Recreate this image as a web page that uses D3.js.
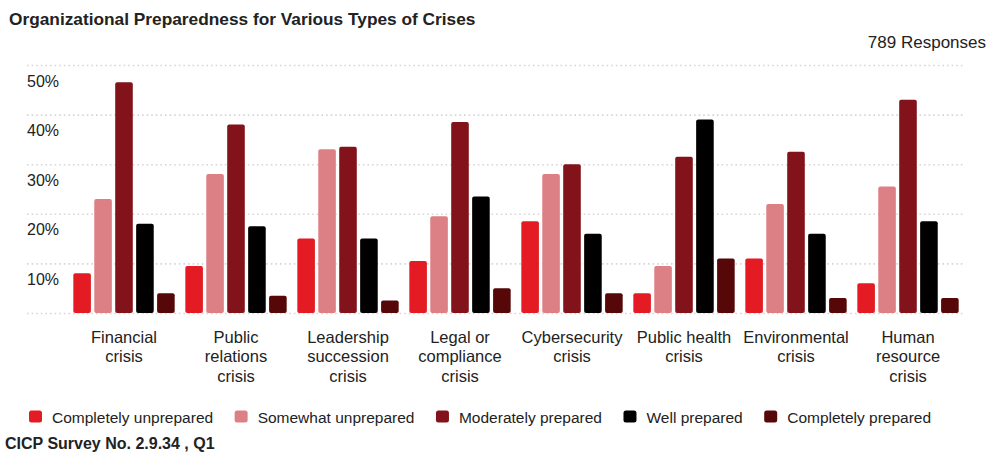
<!DOCTYPE html>
<html>
<head>
<meta charset="utf-8">
<script src="https://cdn.jsdelivr.net/npm/d3@7"></script>
<style>
  body { margin: 0; background: #fff; }
  text { font-family: "Liberation Sans", Arial, Helvetica, sans-serif; fill: #222; }
</style>
</head>
<body>
<script>
// Data
var categories = ["Financial crisis", "Public relations crisis", "Leadership succession crisis",
  "Legal or compliance crisis", "Cybersecurity crisis", "Public health crisis",
  "Environmental crisis", "Human resource crisis"];

// how each category label wraps under the axis
var categoryLines = [
  ["Financial", "crisis"],
  ["Public", "relations", "crisis"],
  ["Leadership", "succession", "crisis"],
  ["Legal or", "compliance", "crisis"],
  ["Cybersecurity", "crisis"],
  ["Public health", "crisis"],
  ["Environmental", "crisis"],
  ["Human", "resource", "crisis"]
];

var seriesNames = ["Completely unprepared", "Somewhat unprepared", "Moderately prepared",
  "Well prepared", "Completely prepared"];
var seriesColors = ["#e41b23", "#dd8085", "#82131a", "#000000", "#560708"];

var completelyUnprepared = [8, 9.5, 15, 10.5, 18.5, 4, 11, 6];
var somewhatUnprepared = [23, 28, 33, 19.5, 28, 9.5, 22, 25.5];
var moderatelyPrepared = [46.5, 38, 33.5, 38.5, 30, 31.5, 32.5, 43];
var wellPrepared = [18, 17.5, 15, 23.5, 16, 39, 16, 18.5];
var completelyPrepared = [4, 3.5, 2.5, 5, 4, 11, 3, 3];

var yTicks = [0, 10, 20, 30, 40, 50];

var series = [completelyUnprepared, somewhatUnprepared, moderatelyPrepared, wellPrepared, completelyPrepared];

// Chart setup
var svgWidth = 989;
var svgHeight = 455;

var svg = d3.select("body")
  .append("svg")
  .attr("width", svgWidth)
  .attr("height", svgHeight);

// Title and response count
svg.append("text")
  .attr("x", 9)
  .attr("y", 25)
  .attr("font-size", "17.3px")
  .attr("font-weight", "bold")
  .text("Organizational Preparedness for Various Types of Crises");

svg.append("text")
  .attr("x", 986)
  .attr("y", 48)
  .attr("text-anchor", "end")
  .attr("font-size", "17px")
  .text("789 Responses");

// Scales
var x0 = d3.scaleBand()
  .domain(categories)
  .range([68, 964])
  .paddingInner(0.095)
  .paddingOuter(0.0475);

var x1 = d3.scaleBand()
  .domain(seriesNames)
  .range([0, x0.bandwidth()])
  .paddingInner(0.16);

var y = d3.scaleLinear()
  .domain([0, 50])
  .range([313, 65]);

// Gridlines + y labels
var yAxis = svg.append("g")
  .attr("transform", "translate(27,0)")
  .call(d3.axisRight(y).tickValues(yTicks).tickSize(936).tickFormat(d => d === 0 ? "" : d + "%"));

yAxis.select(".domain").remove();
yAxis.selectAll(".tick line")
  .attr("stroke", "#d6d6d6")
  .attr("stroke-width", 1.6)
  .attr("stroke-dasharray", "1.6,3");
yAxis.selectAll(".tick text")
  .attr("x", 0)
  .attr("dy", 21)
  .attr("font-size", "16px")
  .attr("fill", "#222")
  .attr("font-family", "Liberation Sans, Arial, sans-serif");

// Bars
var groups = svg.append("g")
  .selectAll("g")
  .data(categories)
  .enter()
  .append("g")
  .attr("transform", d => `translate(${x0(d)},0)`);

groups.selectAll("rect")
  .data((d, i) => seriesNames.map((s, j) => ({ key: s, value: series[j][i], color: seriesColors[j] })))
  .enter()
  .append("rect")
  .attr("x", d => x1(d.key))
  .attr("y", d => y(d.value))
  .attr("width", x1.bandwidth())
  .attr("height", d => y(0) - y(d.value))
  .attr("rx", 2)
  .attr("fill", d => d.color);

// Category axis
var xAxis = svg.append("g")
  .attr("transform", "translate(0,323)")
  .call(d3.axisBottom(x0).tickSize(0).tickFormat(""));

xAxis.select(".domain").remove();
xAxis.selectAll(".tick text").remove();
xAxis.selectAll(".tick")
  .append("text")
  .attr("text-anchor", "middle")
  .attr("font-size", "16.5px")
  .attr("fill", "#222")
  .attr("font-family", "Liberation Sans, Arial, sans-serif")
  .selectAll("tspan")
  .data((d, i) => categoryLines[i])
  .enter()
  .append("tspan")
  .attr("x", 0)
  .attr("y", (d, i) => 19.5 + i * 19.5)
  .text(d => d);

// Legend
var legend = svg.append("g");
var lx = 29;
seriesNames.forEach(function(name, i) {
  var item = legend.append("g").attr("transform", `translate(${lx},0)`);
  item.append("rect")
    .attr("x", 0)
    .attr("y", 410.5)
    .attr("width", 13)
    .attr("height", 12)
    .attr("rx", 2.5)
    .attr("fill", seriesColors[i]);
  var t = item.append("text")
    .attr("x", 23)
    .attr("y", 423)
    .attr("font-size", "15.5px")
    .text(name);
  lx += 23 + t.node().getComputedTextLength() + 21.5;
});

// Source note
svg.append("text")
  .attr("x", 5)
  .attr("y", 449)
  .attr("font-size", "16px")
  .attr("font-weight", "bold")
  .attr("fill", "#111")
  .text("CICP Survey No. 2.9.34 , Q1");
</script>
</body>
</html>
